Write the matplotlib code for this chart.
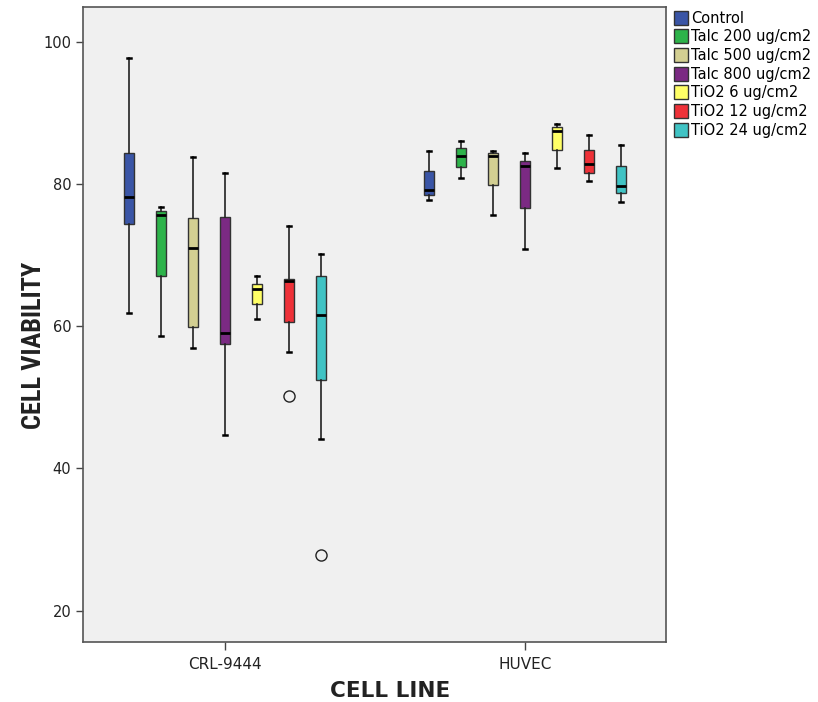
import matplotlib
matplotlib.use("Agg")
import matplotlib.pyplot as plt
from matplotlib.patches import Patch
from matplotlib import font_manager

cell_lines = ["CRL-9444", "HUVEC"]
treatments = ["Control", "Talc 200 ug/cm2", "Talc 500 ug/cm2", "Talc 800 ug/cm2",
              "TiO2 6 ug/cm2", "TiO2 12 ug/cm2", "TiO2 24 ug/cm2"]
colors = ["#3a55a6", "#2db34a", "#d3cf92", "#7b2a83", "#ffff66", "#ee3138", "#40c3c4"]

# [whislo, q1, median, q3, whishi] per treatment
crl_stats = [
    [61.8, 74.4, 78.2, 84.3, 97.7],
    [58.6, 67.1, 75.7, 76.2, 76.8],
    [57.0, 59.9, 71.0, 75.2, 83.8],
    [44.7, 57.5, 59.0, 75.4, 81.6],
    [61.0, 63.1, 65.2, 66.0, 67.1],
    [56.4, 60.6, 66.4, 66.6, 74.1],
    [44.2, 52.4, 61.6, 67.1, 70.1],
]
crl_outliers = [[], [], [], [], [], [50.2], [27.8]]

huvec_stats = [
    [77.8, 78.5, 79.1, 81.9, 84.7],
    [80.8, 82.4, 84.0, 85.1, 86.1],
    [75.7, 79.9, 84.0, 84.3, 84.7],
    [70.9, 76.6, 82.5, 83.3, 84.3],
    [82.3, 84.8, 87.5, 88.0, 88.4],
    [80.5, 81.6, 82.8, 84.8, 86.9],
    [77.5, 78.7, 79.7, 82.6, 85.5],
]
huvec_outliers = [[], [], [], [], [], [], []]

names = {f.name for f in font_manager.fontManager.ttflist}
cond = "DejaVu Sans"
for cand in ["Liberation Sans Narrow", "DejaVu Sans Condensed", "Roboto Condensed"]:
    if cand in names:
        cond = cand
        break

fig = plt.figure(figsize=(8.18, 7.02), dpi=100)
ax = fig.add_axes([0.1015, 0.0855, 0.7125, 0.9045])
ax.set_facecolor("#f0f0f0")

step = 32 / 300
width = 10 / 300
edge = "#333333"

for g, (stats_set, outl_set) in enumerate([(crl_stats, crl_outliers), (huvec_stats, huvec_outliers)]):
    for k, (s, o) in enumerate(zip(stats_set, outl_set)):
        st = dict(whislo=s[0], q1=s[1], med=s[2], q3=s[3], whishi=s[4], fliers=o)
        pos = g + (k - 3) * step
        ax.bxp([st], positions=[pos], widths=width, patch_artist=True,
               showfliers=True, capwidths=[0.015],
               boxprops=dict(facecolor=colors[k], edgecolor=edge, linewidth=1.0),
               medianprops=dict(color="black", linewidth=2.0),
               whiskerprops=dict(color="#222222", linewidth=1.2),
               capprops=dict(color="black", linewidth=1.8),
               flierprops=dict(marker="o", markerfacecolor="none", markeredgecolor="#222222",
                               markersize=8, markeredgewidth=1.0))

ax.set_xlim(-0.473, 1.47)
ax.set_ylim(15.6, 104.9)
ax.set_xticks([0, 1])
ax.set_xticklabels(cell_lines, fontsize=11, color="#222222")
ax.set_yticks([20, 40, 60, 80, 100])
ax.set_yticklabels(["20", "40", "60", "80", "100"], fontsize=10.5, color="#222222")
ax.tick_params(axis="both", direction="out", length=5, width=1, color="#444444")
ax.tick_params(axis="x", length=6, pad=5)
for sp in ax.spines.values():
    sp.set_color("#555555")
    sp.set_linewidth(1.2)

fig.text(390 / 818, 1 - 691 / 702, "CELL LINE", fontsize=15.5, fontweight="bold", color="#222222",
         family="DejaVu Sans", ha="center", va="center")
fig.text(34 / 818, 1 - 345 / 702, "CELL VIABILITY", fontsize=19, fontweight="bold", color="#222222",
         family=[cond, "DejaVu Sans"], fontstretch="condensed", rotation=90, ha="center", va="center")

handles = [Patch(facecolor=c, edgecolor="#333333", label=t) for c, t in zip(colors, treatments)]
leg = fig.legend(handles=handles, loc="upper left", bbox_to_anchor=(0.821, 0.989),
                 frameon=False, fontsize=10.5, handlelength=0.95, handleheight=1.1,
                 handletextpad=0.2, labelspacing=0.25, borderaxespad=0.0, borderpad=0.2)

fig.savefig("out.png", dpi=100, facecolor="white")
